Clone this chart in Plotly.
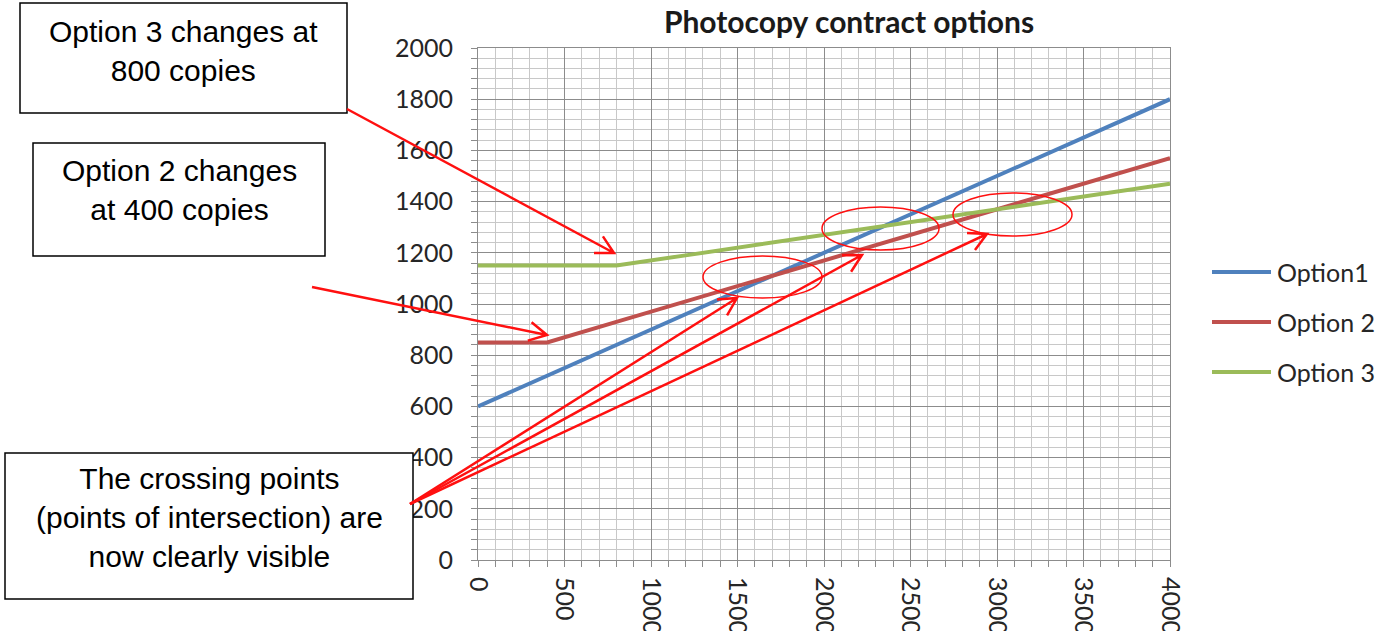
import math
import plotly.graph_objects as go

# number of copies per month and the cost of each contract option
copies = [0, 400, 800, 1200, 1600, 2000, 2400, 2800, 3200, 3600, 4000]
option1 = [600, 720, 840, 960, 1080, 1200, 1320, 1440, 1560, 1680, 1800]
option2 = [850, 850, 930, 1010, 1090, 1170, 1250, 1330, 1410, 1490, 1570]
option3 = [1150, 1150, 1150, 1190, 1230, 1270, 1310, 1350, 1390, 1430, 1470]

series_names = ["Option1", "Option 2", "Option 3"]
series_values = [option1, option2, option3]
series_colors = ["#4F81BD", "#C0504D", "#9BBB59"]

x_ticks = [0, 500, 1000, 1500, 2000, 2500, 3000, 3500, 4000]
y_ticks = [0, 200, 400, 600, 800, 1000, 1200, 1400, 1600, 1800, 2000]

# plot area in pixels, used to place the callouts in paper units
LEFT, RIGHT, TOP, BOTTOM = 478, 1170, 48, 560


def paper_x(px):
    return (px - LEFT) / (RIGHT - LEFT)


def paper_y(py):
    return (BOTTOM - py) / (BOTTOM - TOP)


def arrow_path(tail, head, arm=20, angle=28):
    # straight line with an open V head, built in pixels then mapped to paper
    dx, dy = tail[0] - head[0], tail[1] - head[1]
    d = math.hypot(dx, dy)
    ux, uy = dx / d, dy / d
    pts = []
    for sign in (1, -1):
        a = math.radians(angle * sign)
        rx = ux * math.cos(a) - uy * math.sin(a)
        ry = ux * math.sin(a) + uy * math.cos(a)
        pts.append((head[0] + rx * arm, head[1] + ry * arm))

    def p(pt):
        return f"{paper_x(pt[0]):.5f},{paper_y(pt[1]):.5f}"

    return (f"M{p(tail)} L{p(head)} M{p(pts[0])} L{p(head)} L{p(pts[1])}")


fig = go.Figure()
for name, vals, col in zip(series_names, series_values, series_colors):
    fig.add_trace(go.Scatter(x=copies, y=vals, mode="lines", name=name,
                             line=dict(color=col, width=4), showlegend=False))

tick_font = dict(family="Lato, sans-serif", size=25, color="#262626")
grid_major = "#8c8c8c"
grid_minor = "#c8c8c8"

fig.update_layout(
    width=1391, height=631,
    margin=dict(l=LEFT, r=1391 - RIGHT, t=TOP, b=631 - BOTTOM),
    paper_bgcolor="white", plot_bgcolor="white",
    title=dict(text="<b>Photocopy contract options</b>", x=paper_x(849), xref="paper",
               xanchor="center", y=1 - 22 / 631, yanchor="middle",
               font=dict(family="Lato, sans-serif", size=30, color="#1a1a1a")),
    xaxis=dict(range=[0, 4000], tickvals=x_ticks, tickangle=90, tickfont=tick_font,
               showgrid=True, gridcolor=grid_major, gridwidth=1,
               ticks="outside", ticklen=6, tickcolor=grid_major,
               showline=True, linecolor=grid_major, mirror=True,
               zeroline=False, automargin=False, ticklabelstandoff=5,
               minor=dict(dtick=100, showgrid=True, gridcolor=grid_minor,
                          ticks="outside", ticklen=6, tickcolor=grid_major)),
    yaxis=dict(range=[0, 2000], tickvals=y_ticks, tickfont=tick_font,
               showgrid=True, gridcolor=grid_major, gridwidth=1,
               ticks="outside", ticklen=6, tickcolor=grid_major,
               showline=True, linecolor=grid_major, mirror=True,
               zeroline=False, automargin=False, ticklabelstandoff=13,
               minor=dict(dtick=40, showgrid=True, gridcolor=grid_minor,
                          ticks="outside", ticklen=6, tickcolor=grid_major)),
)

shapes = []
annotations = []

# callout boxes (pixel rectangles) and their text
boxes = [
    ((20, 3, 347, 113), 51, "Option 3 changes at<br>800 copies"),
    ((33, 143, 325, 256), 190, "Option 2 changes<br>at 400 copies"),
    ((5, 453, 413, 599), 517,
     "The crossing points<br>(points of intersection) are<br>now clearly visible"),
]
for (x0, y0, x1, y1), ty, txt in boxes:
    shapes.append(dict(type="rect", xref="paper", yref="paper", layer="above",
                       x0=paper_x(x0), x1=paper_x(x1), y0=paper_y(y1), y1=paper_y(y0),
                       fillcolor="white", line=dict(color="black", width=1.5)))
    annotations.append(dict(xref="paper", yref="paper", x=paper_x((x0 + x1) / 2),
                            y=paper_y(ty), xanchor="center", yanchor="middle",
                            text=txt, showarrow=False, align="center",
                            font=dict(family="Liberation Sans, Arial", size=30,
                                      color="black")))

# red arrows (tail -> head, pixels)
arrows = [
    ((347, 109), (614, 253)),
    ((312, 287), (547, 335)),
    ((410, 504), (737, 298)),
    ((410, 504), (862, 255)),
    ((410, 504), (987, 234)),
]
for tail, head in arrows:
    shapes.append(dict(type="path", xref="paper", yref="paper", layer="above",
                       path=arrow_path(tail, head),
                       line=dict(color="#ff1010", width=2.5)))

# ellipses round the crossing points (pixel boxes)
ellipses = [(703, 256, 822, 298), (822, 207, 939, 250), (953, 193, 1072, 236)]
for x0, y0, x1, y1 in ellipses:
    shapes.append(dict(type="circle", xref="paper", yref="paper", layer="above",
                       x0=paper_x(x0), x1=paper_x(x1), y0=paper_y(y1), y1=paper_y(y0),
                       line=dict(color="#ff1010", width=1.5)))

# legend drawn by hand so the line samples are as long as in the original
for i, (name, col) in enumerate(zip(series_names, series_colors)):
    ly = 272 + 50 * i
    shapes.append(dict(type="line", xref="paper", yref="paper",
                       x0=paper_x(1212), x1=paper_x(1271), y0=paper_y(ly), y1=paper_y(ly),
                       line=dict(color=col, width=4)))
    annotations.append(dict(xref="paper", yref="paper", x=paper_x(1275), y=paper_y(ly),
                            xanchor="left", yanchor="middle", text=name,
                            showarrow=False,
                            font=dict(family="Lato, sans-serif", size=25,
                                      color="#262626")))

fig.update_layout(shapes=shapes, annotations=annotations)

# the page's default body margin would push the chart 8px right and down
fig.write_html("out.html", config={"displayModeBar": False},
               post_script="document.body.style.margin='0';")
